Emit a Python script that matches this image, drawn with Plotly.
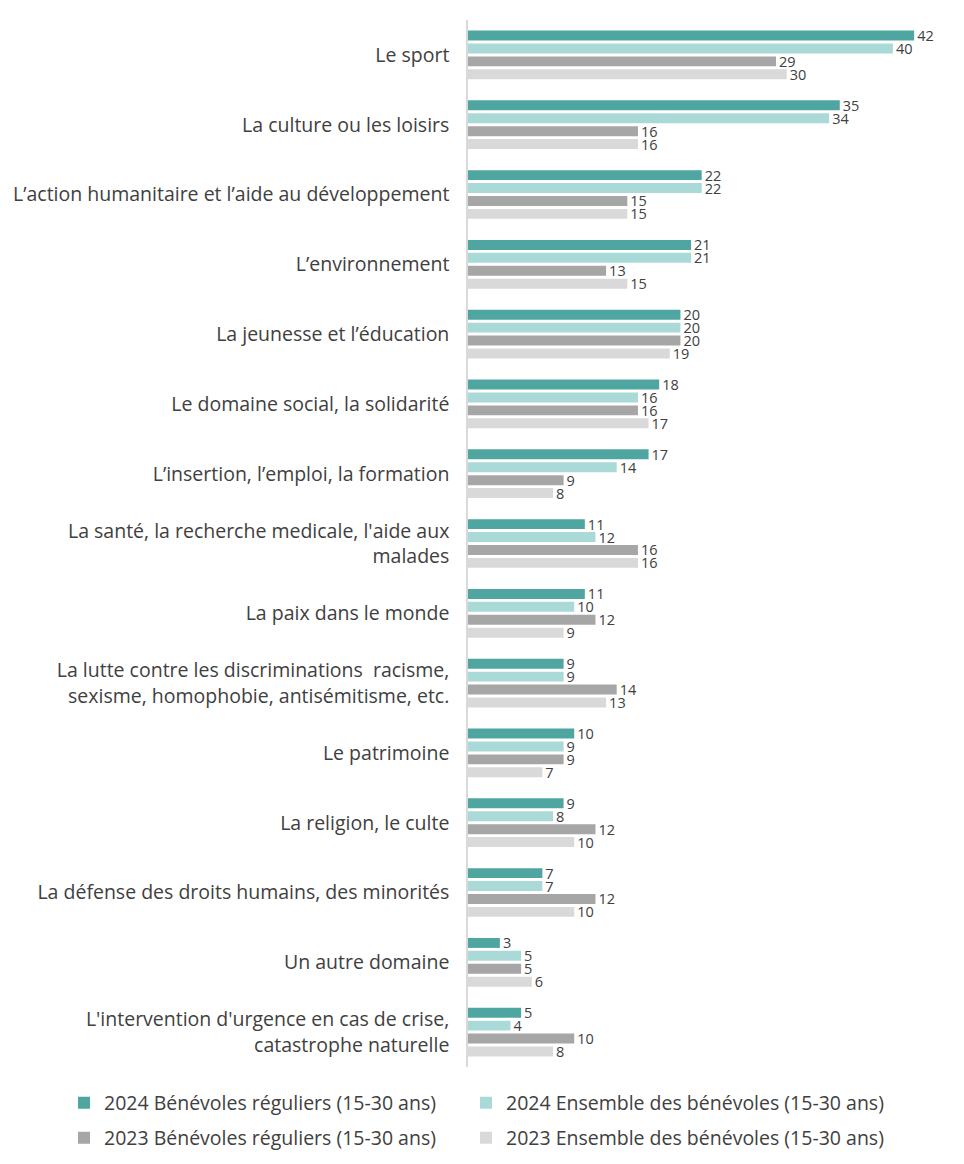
import plotly.graph_objects as go

categories = [
    "Le sport",
    "La culture ou les loisirs",
    "L’action humanitaire et l’aide au développement",
    "L’environnement",
    "La jeunesse et l’éducation",
    "Le domaine social, la solidarité",
    "L’insertion, l’emploi, la formation",
    "La santé, la recherche medicale, l'aide aux<br>malades",
    "La paix dans le monde",
    "La lutte contre les discriminations  racisme,<br>sexisme, homophobie, antisémitisme, etc.",
    "Le patrimoine",
    "La religion, le culte",
    "La défense des droits humains, des minorités",
    "Un autre domaine",
    "L'intervention d'urgence en cas de crise,<br>catastrophe naturelle",
]

reg_2024 = [42, 35, 22, 21, 20, 18, 17, 11, 11, 9, 10, 9, 7, 3, 5]
ens_2024 = [40, 34, 22, 21, 20, 16, 14, 12, 10, 9, 9, 8, 7, 5, 4]
reg_2023 = [29, 16, 15, 13, 20, 16, 9, 16, 12, 14, 9, 12, 12, 5, 10]
ens_2023 = [30, 16, 15, 15, 19, 17, 8, 16, 9, 13, 7, 10, 10, 6, 8]

series_names = [
    "2024 Bénévoles réguliers (15-30 ans)",
    "2024 Ensemble des bénévoles (15-30 ans)",
    "2023 Bénévoles réguliers (15-30 ans)",
    "2023 Ensemble des bénévoles (15-30 ans)",
]
series_values = [reg_2024, ens_2024, reg_2023, ens_2023]
colors = ["#4FA5A0", "#A9DAD8", "#A6A6A6", "#D9D9D9"]
legend_ids = ["legend", "legend2", "legend3", "legend4"]
# legend positions in container pixels (left, centre-y)
legend_pos = [(56, 1095), (458, 1095), (56, 1130), (458, 1130)]

FONT = "'Open Sans', sans-serif"
TXT = "#404040"
W, H = 964, 1164

fig = go.Figure()
for name, vals, col, lg in zip(series_names, series_values, colors, legend_ids):
    fig.add_trace(go.Bar(
        y=categories, x=vals, name=name, orientation="h",
        marker=dict(color=col, line=dict(width=0)),
        text=[str(v) for v in vals], textposition="outside",
        constraintext="none",
        textfont=dict(family=FONT, size=14.5, color=TXT),
        cliponaxis=False, legend=lg,
    ))

legend_layout = {}
for lg, (lx, ly) in zip(legend_ids, legend_pos):
    legend_layout[lg] = dict(
        orientation="h", xref="container", yref="container",
        x=lx / W, y=1 - ly / H, xanchor="left", yanchor="middle",
        font=dict(size=19.5, color=TXT, family=FONT),
        itemclick=False, bgcolor="rgba(0,0,0,0)",
    )

fig.update_layout(
    width=W, height=H,
    margin=dict(l=460, r=26, t=12, b=105, autoexpand=False),
    paper_bgcolor="white", plot_bgcolor="white",
    barmode="group", bargap=0.26, bargroupgap=0.23,
    font=dict(family=FONT, color=TXT),
    showlegend=True,
    **legend_layout,
)
fig.update_xaxes(range=[0, 45], visible=False, showgrid=False, zeroline=False)
fig.update_yaxes(autorange="reversed", showline=True, linecolor="#D9D9D9",
                 linewidth=1.5, ticks="", ticklabelstandoff=13, automargin=False,
                 tickfont=dict(family=FONT, size=19.5, color=TXT), showgrid=False)

fig.write_html("out.html")
